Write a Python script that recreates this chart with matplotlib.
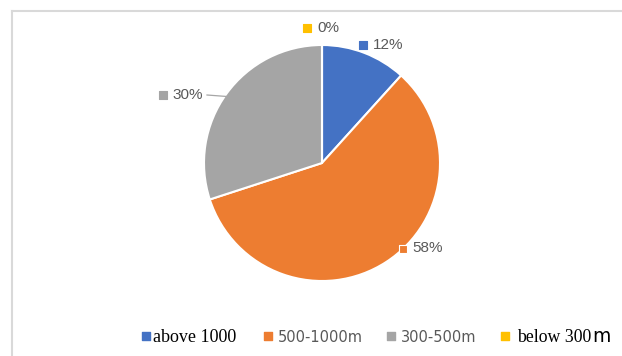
"""Pie chart: share of sites by altitude band (Excel-style look)."""

import matplotlib
matplotlib.use("Agg")
import matplotlib.pyplot as plt
from matplotlib.lines import Line2D

W, H = 622, 356

categories = ["above 1000", "500-1000m", "300-500m", "below 300m"]
shares = [11.7, 58.3, 30, 0]
pct_labels = ["12%", "58%", "30%", "0%"]
colors = ["#4472C4", "#ED7D31", "#A5A5A5", "#FFC000"]

# layout (pixel coords, y measured from top)
CENTER = (322, 163)
RADIUS = 118
LABEL_POS = [(363, 45), (402.5, 248.5), (162.5, 95), (307, 28)]
LEG_MARK_X = [146, 268, 391, 505]
LEG_Y = 336
GREY_TXT = "#595959"
PCT_FONT = ["Liberation Sans Narrow", "DejaVu Sans Condensed", "Liberation Sans"]


def flip(y):
    return H - y


fig = plt.figure(figsize=(W / 100, H / 100), dpi=100)
ax = fig.add_axes([0, 0, 1, 1])
ax.set_xlim(0, W)
ax.set_ylim(0, H)
ax.set_aspect("equal")
ax.axis("off")

ax.pie(shares, colors=colors, startangle=90, counterclock=False,
       center=(CENTER[0], flip(CENTER[1])), radius=RADIUS,
       wedgeprops=dict(edgecolor="white", linewidth=1.5))
ax.set_xlim(0, W)
ax.set_ylim(0, H)

# data labels with legend keys
for (x, y), lab, c in zip(LABEL_POS, pct_labels, colors):
    edge = "white" if lab == "58%" else c
    ax.scatter([x], [flip(y)], marker="s", s=26, color=c, edgecolors=edge,
               linewidths=0.8, zorder=5)
    ax.text(x + 10, flip(y), lab, ha="left", va="center", fontsize=11,
            color=GREY_TXT, family=PCT_FONT)

# leader line for 30%
ax.add_line(Line2D([207, 227], [flip(95), flip(96.5)], color="#A6A6A6", lw=0.9))

# legend (drawn by hand to mimic mixed fonts)
for i, (x, lab, c) in enumerate(zip(LEG_MARK_X, categories, colors)):
    ax.scatter([x], [flip(LEG_Y)], marker="s", s=32, color=c, zorder=5)
    tx = x + 7 if i == 0 else x + 10
    if i == 0:
        ax.text(tx, flip(LEG_Y + 1), lab, ha="left", va="center", fontsize=13,
                family="Liberation Serif", color="black")
    elif i == 3:
        t = ax.text(tx + 2, flip(LEG_Y + 1), "below 300", ha="left", va="center",
                    fontsize=12.8, family="Liberation Serif", color="black")
        fig.canvas.draw()
        bb = t.get_window_extent().transformed(ax.transData.inverted())
        ax.text(bb.x1 + 0.5, flip(LEG_Y + 1), "m", ha="left", va="center",
                fontsize=13.5, family="DejaVu Sans", color="black")
    else:
        ax.text(tx, flip(LEG_Y + 1), lab, ha="left", va="center", fontsize=10.5,
                family="DejaVu Sans", color=GREY_TXT)

# chart-area border (left and top edges visible)
ax.add_line(Line2D([12, 12], [flip(10.5), 0], color="#D9D9D9", lw=1.5))
ax.add_line(Line2D([12, W], [flip(10.5), flip(10.5)], color="#D9D9D9", lw=1.5))

fig.savefig("out.png", dpi=100)
